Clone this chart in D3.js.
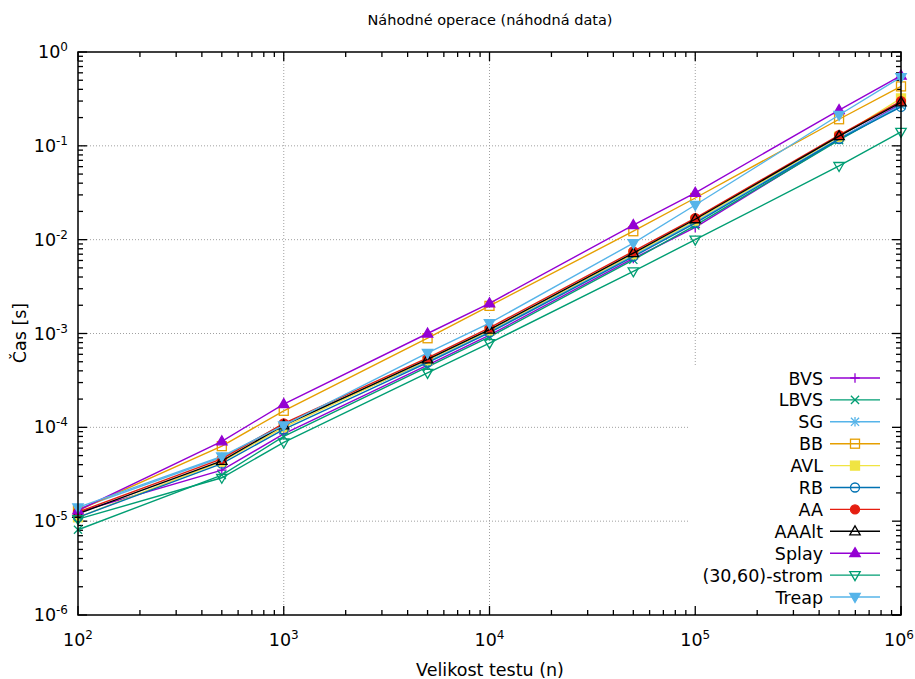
<!DOCTYPE html>
<html>
<head>
<meta charset="utf-8">
<script src="https://cdn.jsdelivr.net/npm/d3@7"></script>
<style>
  body { margin: 0; background: #fff; }
  text { font-family: "DejaVu Sans", sans-serif; fill: #000; }
</style>
</head>
<body>
<script>
// test sizes
var sizes = [100, 500, 1000, 5000, 10000, 50000, 100000, 500000, 1000000];

// times in seconds, one array per tree
var bvs    = [1.25e-5, 3.5e-5, 8.5e-5, 4.6e-4, 9.6e-4, 6.3e-3, 1.35e-2, 1.18e-1, 2.8e-1];
var lbvs   = [8.1e-6, 3.1e-5, 8.0e-5, 4.4e-4, 9.2e-4, 6.1e-3, 1.42e-2, 1.15e-1, 2.7e-1];
var sg     = [1.35e-5, 4.8e-5, 1.08e-4, 5.0e-4, 1.05e-3, 6.8e-3, 1.55e-2, 1.2e-1, 2.7e-1];
var bb     = [1.3e-5, 6.3e-5, 1.5e-4, 8.9e-4, 1.97e-3, 1.23e-2, 2.78e-2, 1.92e-1, 4.3e-1];
var avl    = [1.1e-5, 4.3e-5, 1.0e-4, 5.2e-4, 1.08e-3, 7.0e-3, 1.6e-2, 1.25e-1, 3.2e-1];
var rb     = [1.1e-5, 4.1e-5, 9.5e-5, 4.9e-4, 1.02e-3, 6.6e-3, 1.5e-2, 1.18e-1, 2.6e-1];
var aa     = [1.25e-5, 4.6e-5, 1.1e-4, 5.5e-4, 1.15e-3, 7.5e-3, 1.7e-2, 1.3e-1, 3.0e-1];
var aaalt  = [1.2e-5, 4.4e-5, 1.05e-4, 5.3e-4, 1.1e-3, 7.2e-3, 1.65e-2, 1.27e-1, 2.9e-1];
var splay  = [1.3e-5, 7.1e-5, 1.77e-4, 1.0e-3, 2.1e-3, 1.43e-2, 3.16e-2, 2.4e-1, 5.6e-1];
var strom  = [1.05e-5, 2.9e-5, 6.9e-5, 3.8e-4, 7.9e-4, 4.6e-3, 1.0e-2, 6.1e-2, 1.41e-1];
var treap  = [1.4e-5, 4.9e-5, 1.05e-4, 6.2e-4, 1.29e-3, 9.2e-3, 2.34e-2, 2.13e-1, 5.4e-1];

var names = ["BVS", "LBVS", "SG", "BB", "AVL", "RB", "AA", "AAAlt", "Splay", "(30,60)-strom", "Treap"];
var values = [bvs, lbvs, sg, bb, avl, rb, aa, aaalt, splay, strom, treap];

// tick exponents
var xExp = [2, 3, 4, 5, 6];
var yExp = [-6, -5, -4, -3, -2, -1, 0];

// gnuplot colours and point types
var colors = ["#9400d3", "#009e73", "#56b4e9", "#e69f00", "#f0e442", "#0072b2", "#e51e10", "#000000", "#9400d3", "#009e73", "#56b4e9"];
var marks = ["plus", "cross", "star", "square", "squareF", "circle", "circleF", "tri", "triF", "itri", "itriF"];

var W = 915, H = 679;
var margin = {top: 52, right: 14, bottom: 64, left: 78};
var width = W - margin.left - margin.right,
    height = H - margin.top - margin.bottom;
var fs = 17.5;

var svg = d3.select("body").append("svg")
    .attr("width", W)
    .attr("height", H);

var x = d3.scaleLog().domain([100, 1e6]).range([0, width]);
var y = d3.scaleLog().domain([1e-6, 1]).range([height, 0]);

var chart = svg.append("g")
    .attr("transform", "translate(" + margin.left + "," + margin.top + ")");

// grid (dotted)
var gx = xExp.slice(1, -1), gy = yExp.slice(1, -1);
chart.selectAll(".gridx").data(gx).enter().append("line")
    .attr("x1", function(d) { return x(Math.pow(10, d)); })
    .attr("x2", function(d) { return x(Math.pow(10, d)); })
    .attr("y1", 0).attr("y2", height)
    .attr("stroke", "#a0a0a0").attr("stroke-width", 1).attr("stroke-dasharray", "1,2");
chart.selectAll(".gridy").data(gy).enter().append("line")
    .attr("y1", function(d) { return y(Math.pow(10, d)); })
    .attr("y2", function(d) { return y(Math.pow(10, d)); })
    .attr("x1", 0).attr("x2", width)
    .attr("stroke", "#a0a0a0").attr("stroke-width", 1).attr("stroke-dasharray", "1,2");

// ticks on all four sides, pointing in
function ticksFor(exps) {
  var t = [];
  for (var i = 0; i < exps.length; i++) {
    t.push({v: Math.pow(10, exps[i]), major: true});
    if (i < exps.length - 1)
      for (var k = 2; k <= 9; k++) t.push({v: k * Math.pow(10, exps[i]), major: false});
  }
  return t;
}
var xt = ticksFor(xExp), yt = ticksFor(yExp);
xt.forEach(function(t) {
  var len = t.major ? 9 : 5, px = x(t.v);
  chart.append("line").attr("x1", px).attr("x2", px).attr("y1", height).attr("y2", height - len)
    .attr("stroke", "#000").attr("stroke-width", 1.3);
  chart.append("line").attr("x1", px).attr("x2", px).attr("y1", 0).attr("y2", len)
    .attr("stroke", "#000").attr("stroke-width", 1.3);
});
yt.forEach(function(t) {
  var len = t.major ? 9 : 5, py = y(t.v);
  chart.append("line").attr("y1", py).attr("y2", py).attr("x1", 0).attr("x2", len)
    .attr("stroke", "#000").attr("stroke-width", 1.3);
  chart.append("line").attr("y1", py).attr("y2", py).attr("x1", width).attr("x2", width - len)
    .attr("stroke", "#000").attr("stroke-width", 1.3);
});

// tick labels 10^n
function powLabel(sel, e) {
  sel.append("tspan").text("10");
  sel.append("tspan").attr("dy", -7).attr("font-size", 12).text(e);
}
xExp.forEach(function(e) {
  var t = chart.append("text")
    .attr("x", x(Math.pow(10, e)) - (e === 6 ? 2 : 0)).attr("y", height + 31)
    .attr("text-anchor", "middle").attr("font-size", fs);
  powLabel(t, e);
});
yExp.forEach(function(e) {
  var t = chart.append("text")
    .attr("x", -10).attr("y", y(Math.pow(10, e)) + 6)
    .attr("text-anchor", "end").attr("font-size", fs);
  powLabel(t, e);
});

// marker shapes
function marker(g, type, cx, cy, color) {
  var s = 4.8;
  function apply(el, filled) {
    el.attr("stroke", color).attr("stroke-width", 1.3).attr("fill", filled ? color : "none");
    return el;
  }
  if (type === "plus" || type === "star") {
    apply(g.append("path").attr("d", "M" + (cx - s) + "," + cy + "H" + (cx + s) + "M" + cx + "," + (cy - s) + "V" + (cy + s)));
  }
  if (type === "cross" || type === "star") {
    var c = s * 0.85;
    apply(g.append("path").attr("d", "M" + (cx - c) + "," + (cy - c) + "L" + (cx + c) + "," + (cy + c) + "M" + (cx - c) + "," + (cy + c) + "L" + (cx + c) + "," + (cy - c)));
  }
  if (type === "square" || type === "squareF") {
    apply(g.append("rect").attr("x", cx - 4.5).attr("y", cy - 4.5).attr("width", 9).attr("height", 9), type === "squareF");
  }
  if (type === "circle" || type === "circleF") {
    apply(g.append("circle").attr("cx", cx).attr("cy", cy).attr("r", 4.5), type === "circleF");
  }
  if (type === "tri" || type === "triF") {
    apply(g.append("path").attr("d", "M" + cx + "," + (cy - 5.5) + "L" + (cx + 5.2) + "," + (cy + 3.5) + "L" + (cx - 5.2) + "," + (cy + 3.5) + "Z"), type === "triF");
  }
  if (type === "itri" || type === "itriF") {
    apply(g.append("path").attr("d", "M" + cx + "," + (cy + 5.5) + "L" + (cx + 5.2) + "," + (cy - 3.5) + "L" + (cx - 5.2) + "," + (cy - 3.5) + "Z"), type === "itriF");
  }
}

var line = d3.line()
    .x(function(d, i) { return x(sizes[i]); })
    .y(function(d) { return y(d); });

// series
values.forEach(function(vals, i) {
  var g = chart.append("g");
  g.append("path").datum(vals)
    .attr("d", line)
    .attr("fill", "none")
    .attr("stroke", colors[i])
    .attr("stroke-width", 1.4);
  vals.forEach(function(v, j) {
    marker(g, marks[i], x(sizes[j]), y(v), colors[i]);
  });
});

// legend with opaque white box
var lx = 688 - margin.left, ly = 367 - margin.top;
chart.append("rect")
  .attr("x", lx).attr("y", ly)
  .attr("width", width - lx - 1).attr("height", height - ly - 1)
  .attr("fill", "#fff");
// redraw ticks covered by the legend box
yt.forEach(function(t) {
  var py = y(t.v);
  if (py < ly) return;
  chart.append("line").attr("y1", py).attr("y2", py).attr("x1", width).attr("x2", width - (t.major ? 9 : 5))
    .attr("stroke", "#000").attr("stroke-width", 1.3);
});
xt.forEach(function(t) {
  var px = x(t.v);
  if (px < lx) return;
  chart.append("line").attr("x1", px).attr("x2", px).attr("y1", height).attr("y2", height - (t.major ? 9 : 5))
    .attr("stroke", "#000").attr("stroke-width", 1.3);
});

names.forEach(function(n, i) {
  var ry = 378 - margin.top + i * 21.9;
  chart.append("text")
    .attr("x", 823 - margin.left).attr("y", ry + 6.5)
    .attr("text-anchor", "end").attr("font-size", fs)
    .text(n);
  chart.append("line")
    .attr("x1", 830 - margin.left).attr("x2", 880 - margin.left)
    .attr("y1", ry).attr("y2", ry)
    .attr("stroke", colors[i]).attr("stroke-width", 1.4);
  marker(chart, marks[i], 855 - margin.left, ry, colors[i]);
});

// border
chart.append("rect")
  .attr("width", width).attr("height", height)
  .attr("fill", "none").attr("stroke", "#000").attr("stroke-width", 1.5);

// titles
svg.append("text")
  .attr("x", 490).attr("y", 25)
  .attr("text-anchor", "middle").attr("font-size", 14.5)
  .text("Náhodné operace (náhodná data)");
svg.append("text")
  .attr("x", 490).attr("y", 676)
  .attr("text-anchor", "middle").attr("font-size", fs)
  .text("Velikost testu (n)");
svg.append("text")
  .attr("text-anchor", "middle").attr("font-size", fs)
  .attr("transform", "translate(26,333)rotate(-90)")
  .text("Čas [s]");
</script>
</body>
</html>
